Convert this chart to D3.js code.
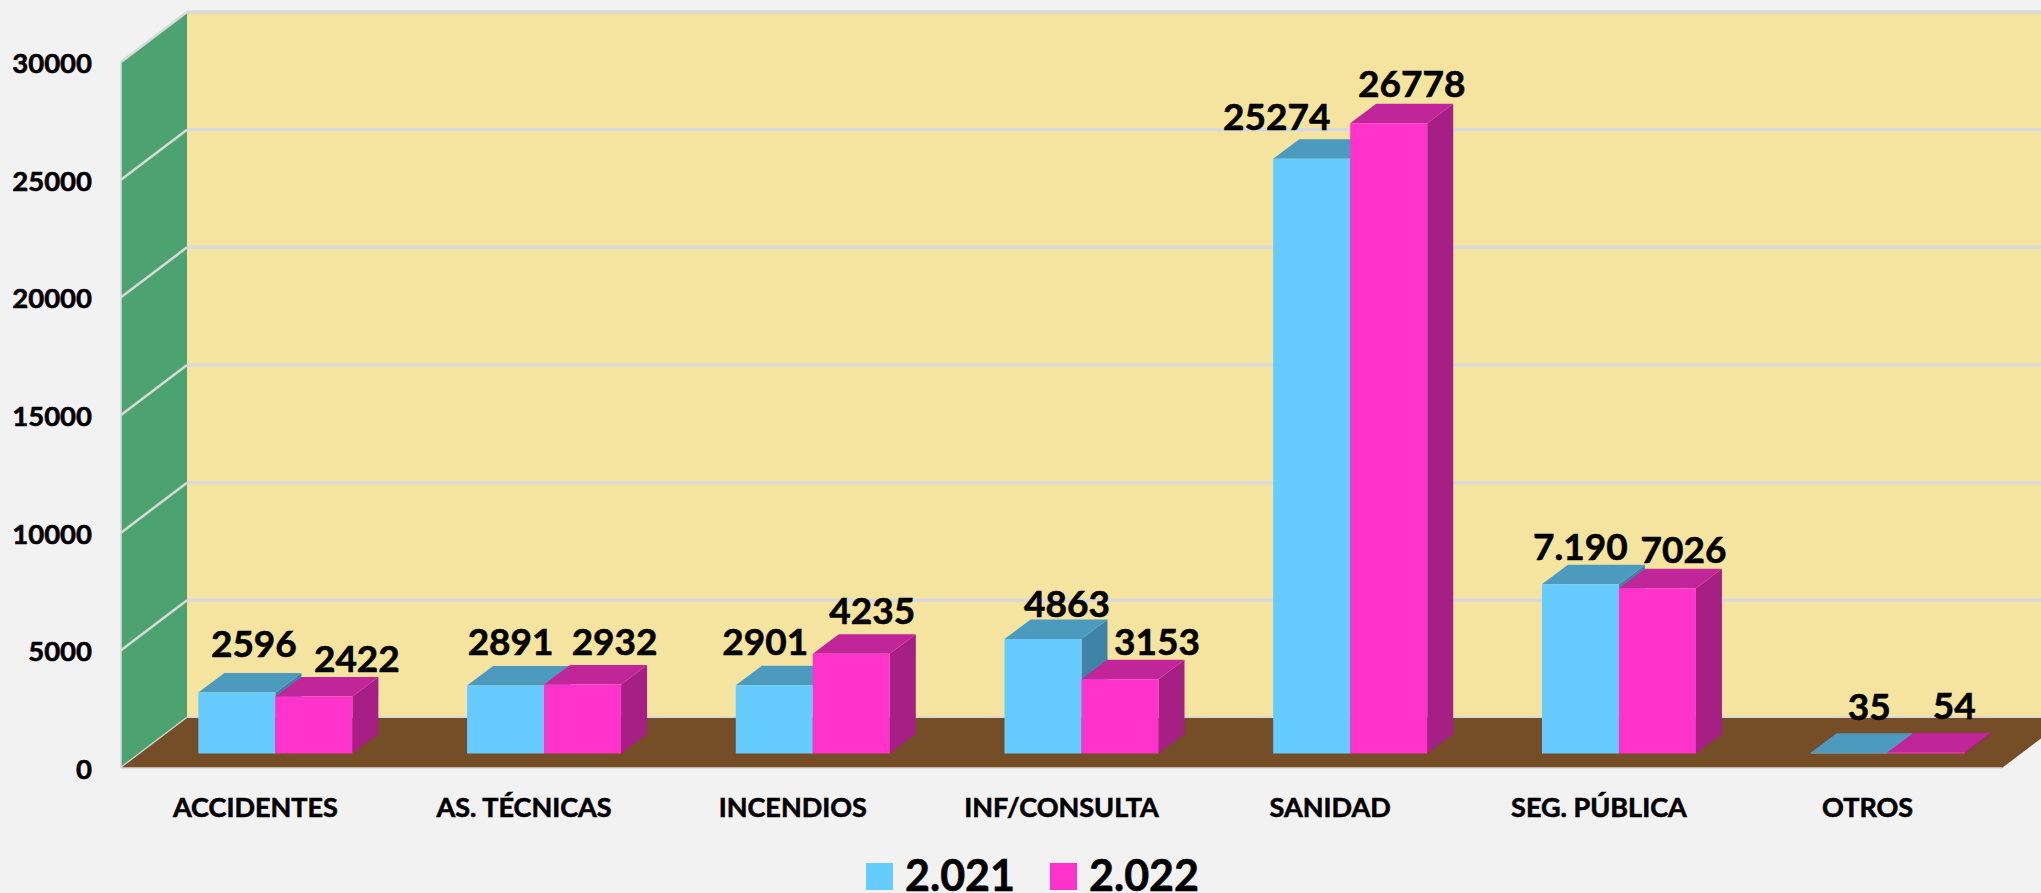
<!DOCTYPE html>
<html>
    <head>
        <title>Servicios 2021 - 2022</title>
        <meta charset="utf-8">
        <style>
            html, body { margin: 0; padding: 0; background: #f2f2f2; overflow: hidden; }
            text { font-family: Lato, "Open Sans", sans-serif; font-weight: 700; fill: #000; stroke: #000; stroke-width: 0.6px; }
        </style>
    </head>
    <body>
        <script src="https://cdnjs.cloudflare.com/ajax/libs/d3/7.8.5/d3.min.js"></script>
        <script>

            var categories = ["ACCIDENTES", "AS. TÉCNICAS", "INCENDIOS", "INF/CONSULTA", "SANIDAD", "SEG. PÚBLICA", "OTROS"];
            var seriesNames = ["2.021", "2.022"];
            var values2021 = [2596, 2891, 2901, 4863, 25274, 7190, 35];
            var values2022 = [2422, 2932, 4235, 3153, 26778, 7026, 54];
            var labels2021 = ["2596", "2891", "2901", "4863", "25274", "7.190", "35"];
            var labels2022 = ["2422", "2932", "4235", "3153", "26778", "7026", "54"];
            var yTicks = [0, 5000, 10000, 15000, 20000, 25000, 30000];

            var width = 2041, height = 893;

            // the fake 3d box: front plane, how far back the walls go
            var left = 121, right = 2002, yBase = 768, yTop = 62;
            var depthX = 66, depthY = 50;
            // bars stand a bit inside the floor and have their own shallower depth
            var barInX = 20, barInY = 14.5, barDepthX = 26, barDepthY = 19.5;

            var colors = [
                {front: "#66ccff", top: "#4d9abf", side: "#3f84a6"},
                {front: "#ff33cc", top: "#c02599", side: "#a61f84"}
            ];

            // the labels were moved by hand in the original, so each one has a nudge
            var nudge2021 = [[4, -10], [-8, -5], [-22, -5], [11, 3], [-48, -3], [-13, 1], [7, -7]];
            var nudge2022 = [[30, 1], [19, -4], [8, -4], [24, 1], [10, -1], [13, 0], [15, -8]];

            var x = d3.scaleBand()
                    .domain(categories)
                    .range([left, right])
                    .paddingInner(1 - 154 / 268.7)
                    .paddingOuter((1 - 154 / 268.7) / 2);

            var y = d3.scaleLinear()
                    .domain([0, 30000])
                    .range([0, yBase - yTop]);

            var svg = d3.select("body")
                    .append("svg")
                    .attr("width", width)
                    .attr("height", height)
                    .style("display", "block");

            var line = d3.line();

            function poly(points, fill) {
              return svg.append("path")
                      .attr("d", line(points) + "Z")
                      .attr("fill", fill);
            }

            // back wall, left wall, floor
            poly([[left + depthX, yTop - depthY], [right + depthX, yTop - depthY],
              [right + depthX, yBase - depthY], [left + depthX, yBase - depthY]], "#f5e49f");
            poly([[left, yTop], [left + depthX, yTop - depthY],
              [left + depthX, yBase - depthY], [left, yBase]], "#4ca370");

            // gridlines go along the side wall and then across the back
            yTicks.forEach(function(t) {
              var gy = yBase - y(t);
              svg.append("path")
                      .attr("d", line([[left, gy], [left + depthX, gy - depthY]]))
                      .attr("stroke", "#d9d9d9")
                      .attr("stroke-width", 2.5)
                      .attr("fill", "none");
              svg.append("path")
                      .attr("d", line([[left + depthX, gy - depthY], [right + depthX, gy - depthY]]))
                      .attr("stroke", "#d9d9d9")
                      .attr("stroke-width", 3.5)
                      .attr("fill", "none");
            });

            poly([[left, yBase], [right, yBase],
              [right + depthX, yBase - depthY], [left + depthX, yBase - depthY]], "#754d26");

            svg.append("path")
                    .attr("d", line([[left, yBase], [right, yBase]]))
                    .attr("stroke", "#d9d9d9")
                    .attr("stroke-width", 1.5);
            svg.append("path")
                    .attr("d", line([[left, yBase], [left, yTop]]))
                    .attr("stroke", "#d9d9d9")
                    .attr("stroke-width", 1.5);

            // y tick labels
            svg.selectAll("text.tick")
                    .data(yTicks)
                    .enter()
                    .append("text")
                    .attr("class", "tick")
                    .attr("x", 92)
                    .attr("y", function(d) { return yBase - y(d) + 11; })
                    .attr("text-anchor", "end")
                    .attr("font-size", 27.5)
                    .text(function(d) { return d; });

            // category labels
            svg.selectAll("text.cat")
                    .data(categories)
                    .enter()
                    .append("text")
                    .attr("class", "cat")
                    .attr("x", function(d) { return x(d) + x.bandwidth() / 2; })
                    .attr("y", 817)
                    .attr("text-anchor", "middle")
                    .attr("font-size", 27)
                    .text(function(d) { return d; });

            // bars, group by group so that the pink one covers the blue side
            var barW = x.bandwidth() / 2;
            var y0 = yBase - barInY;

            categories.forEach(function(c, i) {
              [values2021[i], values2022[i]].forEach(function(v, s) {
                var x0 = x(c) + barInX + s * barW;
                var x1 = x0 + barW;
                var yv = y0 - y(v);
                poly([[x1, y0], [x1 + barDepthX, y0 - barDepthY],
                  [x1 + barDepthX, yv - barDepthY], [x1, yv]], colors[s].side);
                poly([[x0, yv], [x1, yv],
                  [x1 + barDepthX, yv - barDepthY], [x0 + barDepthX, yv - barDepthY]], colors[s].top);
                poly([[x0, y0], [x1, y0], [x1, yv], [x0, yv]], colors[s].front);
              });
            });

            // value labels on top of everything
            categories.forEach(function(c, i) {
              [[values2021, labels2021, nudge2021], [values2022, labels2022, nudge2022]].forEach(function(a, s) {
                svg.append("text")
                        .attr("class", "value")
                        .attr("x", x(c) + barInX + s * barW + barW / 2 + barDepthX / 2 + a[2][i][0])
                        .attr("y", y0 - y(a[0][i]) - barDepthY - 6 + a[2][i][1])
                        .attr("text-anchor", "middle")
                        .attr("font-size", 37)
                        .text(a[1][i]);
              });
            });

            // legend
            var legendX = d3.scaleOrdinal().domain(seriesNames).range([866, 1050]);
            seriesNames.forEach(function(name, s) {
              svg.append("rect")
                      .attr("x", legendX(name))
                      .attr("y", 863)
                      .attr("width", 27)
                      .attr("height", 27)
                      .attr("fill", colors[s].front);
              svg.append("text")
                      .attr("x", legendX(name) + 39)
                      .attr("y", 891)
                      .attr("font-size", 43)
                      .text(name);
            });

        </script>
    </body>
</html>
